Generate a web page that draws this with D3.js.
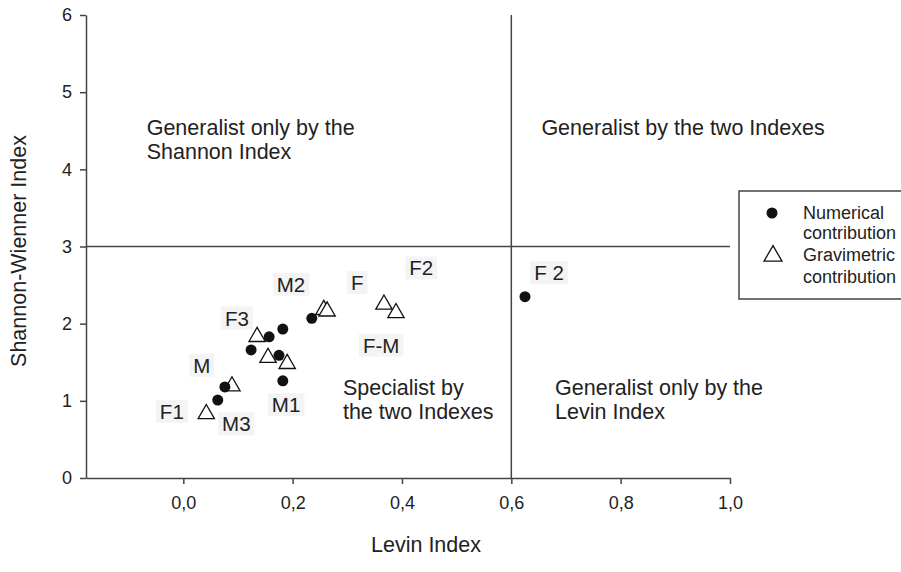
<!DOCTYPE html>
<html>
<head>
<meta charset="utf-8">
<script src="https://cdn.jsdelivr.net/npm/d3@7"></script>
<style>
  body { margin: 0; background: #fff; }
  text { font-family: "Liberation Sans", Arial, sans-serif; fill: #222; }
</style>
</head>
<body>
<div id="vizArea"></div>
<script>
// numerical contribution (circles)
var numLevin   = [0.076, 0.063, 0.124, 0.157, 0.182, 0.175, 0.182, 0.235, 0.625];
var numShannon = [1.18, 1.01, 1.66, 1.83, 1.93, 1.59, 1.26, 2.07, 2.35];

// gravimetric contribution (triangles)
var gravLevin   = [0.042, 0.089, 0.135, 0.155, 0.190, 0.257, 0.263, 0.367, 0.389];
var gravShannon = [0.83, 1.19, 1.83, 1.56, 1.48, 2.18, 2.16, 2.25, 2.14];

// point labels, placed in data units
var labelText = ["F2", "M2", "F", "F3", "F-M", "M", "M1", "F1", "M3", "F 2"];
var labelX    = [0.435, 0.197, 0.318, 0.098, 0.362, 0.034, 0.188, -0.021, 0.097, 0.669];
var labelY    = [2.72, 2.51, 2.53, 2.07, 1.72, 1.46, 0.95, 0.86, 0.70, 2.66];

// quadrant notes
var quadText = [["Generalist only by the", "Shannon Index"],
                ["Generalist by the two Indexes"],
                ["Specialist by", "the two Indexes"],
                ["Generalist only by the", "Levin Index"]];
var quadX = [-0.067, 0.655, 0.292, 0.68];
var quadY = [4.45, 4.45, 1.08, 1.08];

var yTicks = [0, 1, 2, 3, 4, 5, 6];
var xTicks = [0.0, 0.2, 0.4, 0.6, 0.8, 1.0];
var cutLevin = 0.6, cutShannon = 3;

var W = 901, H = 572;
var canvas = d3.select("#vizArea")
  .append("svg")
    .attr("width", W)
    .attr("height", H);

var x = d3.scaleLinear().domain([-0.178, 1.0]).range([86, 730]);
var y = d3.scaleLinear().domain([0, 6]).range([478, 15]);

var lineCol = "#444";

// AXES
var yAxis = canvas.append("g")
  .attr("transform", "translate(" + x(-0.178) + ",0)")
  .call(d3.axisLeft(y).tickValues(yTicks).tickFormat(d3.format("d")).tickSize(6).tickSizeOuter(0).tickPadding(8));
var xAxis = canvas.append("g")
  .attr("transform", "translate(0," + y(0) + ")")
  .call(d3.axisBottom(x).tickValues(xTicks).tickFormat(function (d) { return d3.format(".1f")(d).replace(".", ","); })
    .tickSize(6).tickSizeOuter(0).tickPadding(12));
[yAxis, xAxis].forEach(function (a) {
  a.selectAll("path, line").attr("stroke", lineCol).attr("stroke-width", 1.5);
  a.selectAll("text").attr("font-size", 18).attr("fill", "#222")
    .style("font-family", "'Liberation Sans', Arial, sans-serif");
});

// CUT LINES
canvas.append("line")
  .attr("x1", x(-0.178)).attr("x2", x(1.0))
  .attr("y1", y(cutShannon)).attr("y2", y(cutShannon))
  .attr("stroke", lineCol).attr("stroke-width", 1.5);
canvas.append("line")
  .attr("x1", x(cutLevin)).attr("x2", x(cutLevin))
  .attr("y1", y(0)).attr("y2", y(6))
  .attr("stroke", lineCol).attr("stroke-width", 1.5);

// AXIS TITLES
canvas.append("text")
  .attr("transform", "translate(26,251) rotate(-90)")
  .attr("text-anchor", "middle")
  .attr("font-size", 21.5)
  .text("Shannon-Wienner Index");
canvas.append("text")
  .attr("x", 426).attr("y", 552)
  .attr("text-anchor", "middle")
  .attr("font-size", 21.5)
  .text("Levin Index");

// QUADRANT NOTES
quadText.forEach(function (lines, i) {
  var t = canvas.append("text")
    .attr("x", x(quadX[i])).attr("y", y(quadY[i]))
    .attr("font-size", 21.5);
  lines.forEach(function (s, j) {
    t.append("tspan").attr("x", x(quadX[i])).attr("dy", j === 0 ? 0 : 24).text(s);
  });
});

// POINT LABELS
labelText.forEach(function (s, i) {
  var g = canvas.append("g");
  var t = g.append("text")
    .attr("x", x(labelX[i])).attr("y", y(labelY[i]))
    .attr("text-anchor", "middle")
    .attr("dy", "0.36em")
    .attr("font-size", 20.5)
    .text(s);
  var b = t.node().getBBox();
  g.insert("rect", "text")
    .attr("x", b.x - 4).attr("y", b.y)
    .attr("width", b.width + 8).attr("height", b.height)
    .attr("fill", "#f4f4f4");
});

// MARKERS
var tri = d3.symbol().type(d3.symbolTriangle).size(115);
canvas.selectAll(".grav")
  .data(gravLevin)
  .enter().append("path")
    .attr("class", "grav")
    .attr("d", tri)
    .attr("transform", function (d, i) { return "translate(" + x(d) + "," + y(gravShannon[i]) + ")"; })
    .attr("fill", "#fff")
    .attr("stroke", "#111")
    .attr("stroke-width", 1.3);
canvas.selectAll(".num")
  .data(numLevin)
  .enter().append("circle")
    .attr("class", "num")
    .attr("cx", function (d) { return x(d); })
    .attr("cy", function (d, i) { return y(numShannon[i]); })
    .attr("r", 5.5)
    .attr("fill", "#111");

// LEGEND
canvas.append("rect")
  .attr("x", 739).attr("y", 191)
  .attr("width", 175).attr("height", 108)
  .attr("fill", "#fff")
  .attr("stroke", lineCol).attr("stroke-width", 1.5);
canvas.append("circle")
  .attr("cx", 772).attr("cy", 213).attr("r", 5.5).attr("fill", "#111");
canvas.append("path")
  .attr("d", d3.symbol().type(d3.symbolTriangle).size(140))
  .attr("transform", "translate(773,256)")
  .attr("fill", "#fff").attr("stroke", "#111").attr("stroke-width", 1.3);
var legLines = [["Numerical", 213], ["contribution", 233], ["Gravimetric", 255], ["contribution", 277]];
legLines.forEach(function (l) {
  canvas.append("text")
    .attr("x", 803).attr("y", l[1])
    .attr("dy", "0.36em")
    .attr("font-size", 18)
    .text(l[0]);
});
</script>
</body>
</html>
